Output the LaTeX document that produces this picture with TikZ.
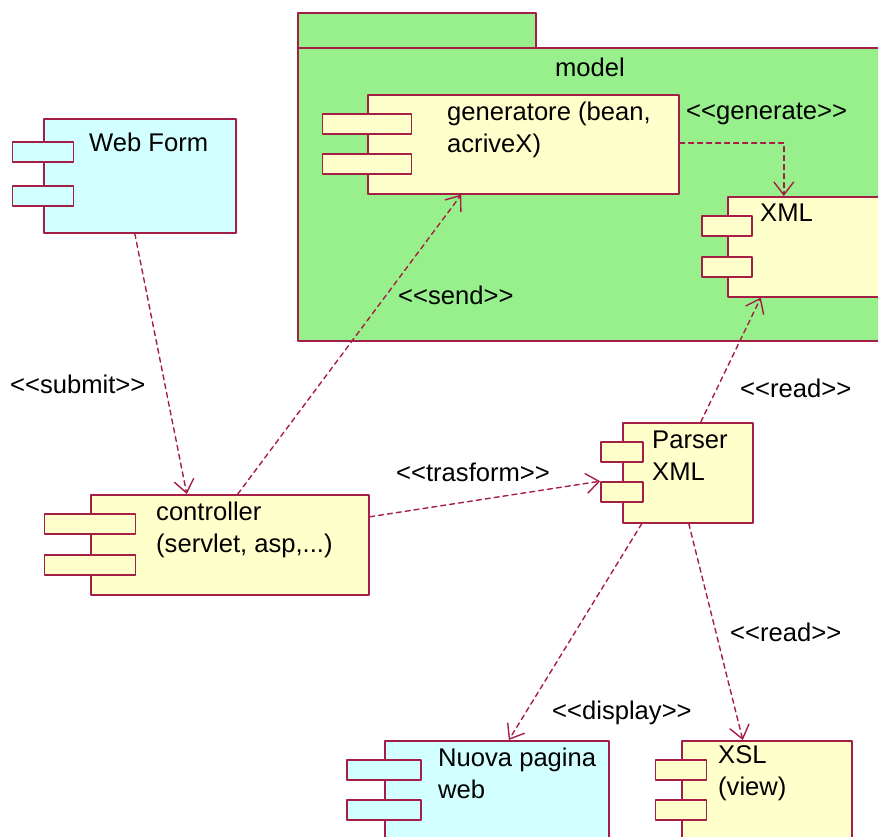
\documentclass[tikz,border=0pt]{standalone}
\usepackage{fontspec}
\setmainfont{Liberation Sans}[Ligatures=TeXOff]
\usetikzlibrary{arrows.meta}
\definecolor{vien}{RGB}{165,30,70}
\definecolor{vang}{RGB}{255,255,204}
\definecolor{xanh}{RGB}{210,255,255}
\definecolor{xanhla}{RGB}{152,240,140}
\begin{document}
\begin{tikzpicture}[x=1pt,y=-1pt,line cap=round,line join=round,
		khoi/.style={draw=vien,line width=1.6pt,inner sep=0pt,anchor=north west},
		cong/.style={draw=vien,line width=1.6pt,inner sep=0pt,minimum height=20pt},
		chu/.style={anchor=west,inner sep=0pt,align=left,font=\fontsize{25.6}{32}\selectfont},
		noi/.style={draw=vien,line width=1.4pt,dash pattern=on 5pt off 4pt,
			-{Straight Barb[length=13pt,width=20pt]}}]
	\useasboundingbox (0,0) rectangle (878,836); %khung hình
	\clip (0,0) rectangle (878,836); %cắt khung
	% Vẽ gói model
	\node[khoi,fill=xanhla,minimum width=238pt,minimum height=35pt] (tab) at (297,12) {};
	\node[khoi,fill=xanhla,minimum width=600pt,minimum height=293pt] (model) at (297,47) {};
	\node[chu,anchor=center] (model-t) at (590,67) {model}; %tên gói
	% Vẽ các thành phần
	\node[khoi,fill=xanh,minimum width=192pt,minimum height=114pt] (wf) at (43,118) {};
	\node[khoi,fill=vang,minimum width=311pt,minimum height=99pt] (gen) at (367,94) {};
	\node[khoi,fill=vang,minimum width=160pt,minimum height=100pt] (xml) at (727,196) {};
	\node[khoi,fill=vang,minimum width=278pt,minimum height=100pt] (ctrl) at (90,494) {};
	\node[khoi,fill=vang,minimum width=130pt,minimum height=100pt] (par) at (622,422) {};
	\node[khoi,fill=xanh,minimum width=224pt,minimum height=110pt] (web) at (384,740) {};
	\node[khoi,fill=vang,minimum width=170pt,minimum height=110pt] (xsl) at (681,740) {};
	% Hai cổng bên trái mỗi thành phần
	\foreach \n/\w/\a/\b/\c in {wf/61pt/34pt/78pt/xanh,gen/89pt/30pt/70pt/vang,
		xml/50pt/30pt/71pt/vang,ctrl/91pt/30pt/71pt/vang,par/42pt/30pt/70pt/vang,
		web/74pt/30pt/70pt/xanh,xsl/51pt/30pt/70pt/vang}{
		\node[cong,fill=\c,minimum width=\w] (\n-p1) at ([yshift=-\a]\n.north west) {};
		\node[cong,fill=\c,minimum width=\w] (\n-p2) at ([yshift=-\b]\n.north west) {};
	}
	% Chữ trong thành phần
	\node[chu] (wf-t) at (89,142) {Web Form};
	\node[chu] (gen-t) at (447,130) {generatore (bean,\\acriveX)};
	\node[chu] (xml-t) at (760,213) {XML};
	\node[chu] (ctrl-t) at (156,530) {controller\\(servlet, asp,...)};
	\node[chu] (par-t) at (652,456) {Parser\\XML};
	\node[chu] (web-t) at (438,773) {Nuova pagina\\web};
	\node[chu] (xsl-t) at (718,773) {XSL\\(view)};
	% Vẽ các mũi tên phụ thuộc
	\draw[noi] ([xshift=-5pt]wf.south) -- ([xshift=-43pt]ctrl.north);
	\draw[noi] ([xshift=8pt]ctrl.north) -- ([xshift=-62pt]gen.south);
	\draw[noi] ([yshift=1.5pt]gen.east) -| ([xshift=-24pt]xml.north);
	\draw[noi] ([xshift=13pt]par.north) -- ([xshift=-47pt]xml.south);
	\draw[noi] ([yshift=28pt]ctrl.east) -- (par-p2.north west);
	\draw[noi] ([xshift=-46pt]par.south) -- ([xshift=12pt]web.north);
	\draw[noi] ([xshift=1pt]par.south) -- ([xshift=-24pt]xsl.north);
	% Nhãn trên mũi tên
	\node[chu] (l-submit) at (10,384) {<<submit>>};
	\node[chu] (l-send) at (398,295) {<<send>>};
	\node[chu] (l-gen) at (686,114) {<<generate>>};
	\node[chu] (l-read1) at (740,388) {<<read>>};
	\node[chu] (l-tra) at (396,472) {<<trasform>>};
	\node[chu] (l-disp) at (552,713) {<<display>>};
	\node[chu] (l-read2) at (730,632) {<<read>>};
\end{tikzpicture}
\end{document}
